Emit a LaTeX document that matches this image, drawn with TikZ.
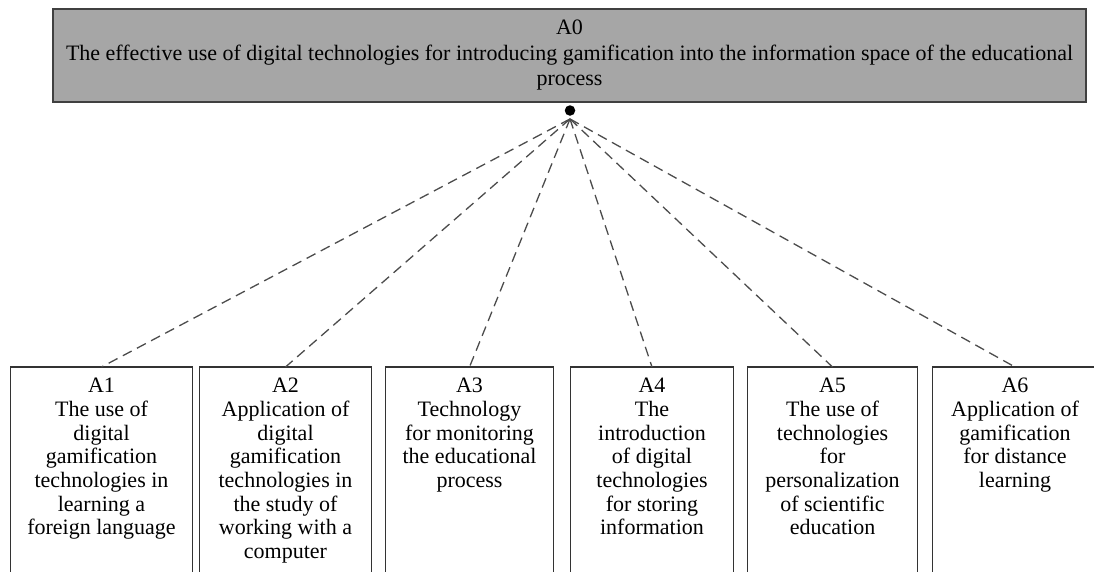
\documentclass[tikz,border=0pt]{standalone}
\usepackage{fontspec}
\setmainfont{Liberation Serif}
\usetikzlibrary{positioning}
\begin{document}
\begin{tikzpicture}[x=1pt,y=-1pt]
	% Styles
	\tikzstyle{titre}=[draw=black!75,line width=1.3pt,fill=black!35,minimum width=1033pt,minimum height=93pt,align=center,inner sep=0pt,font=\fontsize{22}{25.5}\selectfont]
	\tikzstyle{point}=[circle,fill=black,inner sep=0pt,minimum size=10.5pt]
	\tikzstyle{cadre}=[minimum height=215pt,anchor=north,inner sep=0pt]
	\tikzstyle{bord}=[draw=black!80,line width=1.3pt]
	\tikzstyle{texte}=[align=center,inner sep=0pt,font=\fontsize{22}{23.7}\selectfont]
	\tikzstyle{lien}=[dash pattern=on 10pt off 6pt,line width=1.3pt,draw=black!70]
	% Dimensions
	\def\HautCadres{367}
	\def\EcartTexte{11pt}
	\useasboundingbox (0,0) rectangle (1094,571);
	% Noeud principal
	\node[titre] (A0) at (569.5,55.5) {A0\\The effective use of digital technologies for introducing gamification into the information space of the educational\\process};
	\node[point] (P) at (570,110.5) {};
	% Cadres du bas
	\node[cadre,minimum width=181pt] (A1) at (101.5,\HautCadres) {};
	\node[cadre,minimum width=171pt] (A2) at (285.5,\HautCadres) {};
	\node[cadre,minimum width=167pt] (A3) at (469.5,\HautCadres) {};
	\node[cadre,minimum width=162pt] (A4) at (652,\HautCadres) {};
	\node[cadre,minimum width=169pt] (A5) at (832.5,\HautCadres) {};
	\node[cadre,minimum width=164pt] (A6) at (1015,\HautCadres) {};
	\foreach \n in {A1,A2,A3,A4,A5,A6}
		\draw[bord] (\n.south west) -- (\n.north west) -- (\n.north east) -- (\n.south east);
	% Textes
	\node[texte,below=\EcartTexte of A1.north] (T1) {A1\\The use of\\digital\\gamification\\technologies in\\learning a\\foreign language};
	\node[texte,below=\EcartTexte of A2.north] (T2) {A2\\Application of\\digital\\gamification\\technologies in\\the study of\\working with a\\computer};
	\node[texte,below=\EcartTexte of A3.north] (T3) {A3\\Technology\\for monitoring\\the educational\\process};
	\node[texte,below=\EcartTexte of A4.north] (T4) {A4\\The\\introduction\\of digital\\technologies\\for storing\\information};
	\node[texte,below=\EcartTexte of A5.north] (T5) {A5\\The use of\\technologies\\for\\personalization\\of scientific\\education};
	\node[texte,below=\EcartTexte of A6.north] (T6) {A6\\Application of\\gamification\\for distance\\learning};
	% Liens
	\foreach \n in {A1,A2,A3,A4,A5,A6}
		\draw[lien] ([yshift=-3pt]P.south) -- (\n.north);
\end{tikzpicture}
\end{document}
